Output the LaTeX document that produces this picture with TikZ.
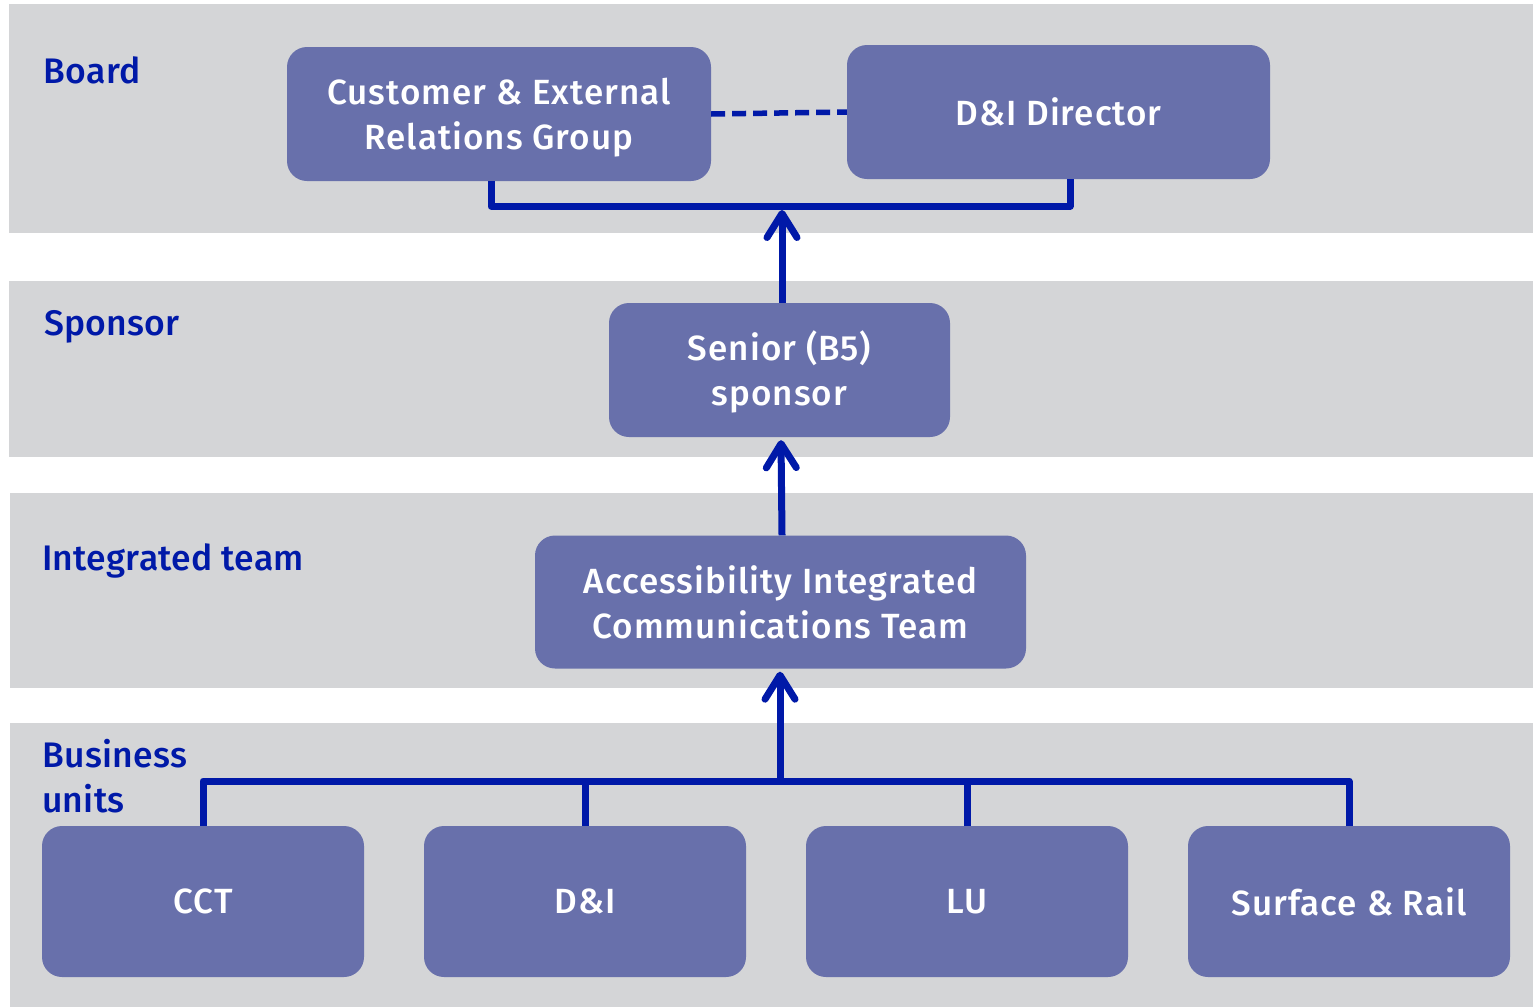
\documentclass[tikz,border=0pt]{standalone}
\usepackage{fontspec}
\IfFontExistsTF{Fira Sans Medium}
  {\setmainfont{Fira Sans}[BoldFont={Fira Sans Medium}]}
  {\setmainfont{Lato}}
\usetikzlibrary{arrows.meta}
\definecolor{band}{HTML}{D4D5D7}
\definecolor{boxc}{HTML}{6870AB}
\definecolor{linec}{HTML}{0019A8}
\newcommand{\lowerstrut}{\rule{0pt}{33pt}}
\tikzset{
  bandrect/.style={fill=band, draw=none},
  unitbox/.style={fill=boxc, draw=none, rounded corners=20pt, text=white, align=center,
    font=\fontsize{35}{45}\selectfont\bfseries\addfontfeature{LetterSpace=3}, inner sep=0pt},
  lbl/.style={text=linec, anchor=base west, inner sep=0pt, align=left,
    font=\fontsize{35.5}{45}\selectfont\bfseries\addfontfeature{LetterSpace=0.8}},
  conn/.style={draw=linec, line width=7pt, line join=round},
  arr/.style={conn, -{Straight Barb[length=24pt,width=30pt,round]}},
  dashconn/.style={draw=linec, line width=5.5pt, dash pattern=on 14pt off 7pt}
}
\begin{document}
\begin{tikzpicture}[x=1pt,y=-1pt]
\useasboundingbox (0,0) rectangle (1533,1007);
% bands
\fill[bandrect] (9,4) rectangle (1533,233);
\fill[bandrect] (9,281) rectangle (1533,457);
\fill[bandrect] (10,493) rectangle (1533,688);
\fill[bandrect] (10,723) rectangle (1533,1007);
% labels
\node[lbl] (lboard) at (43.5,83) {Board};
\node[lbl] (lspons) at (44,335) {Sponsor};
\node[lbl] (linteg) at (42,570) {Integrated team};
\node[lbl] (lbus) at (42,812) {Business\\units};
% boxes
\node[unitbox, minimum width=424pt, minimum height=134pt] (cerg) at (499,114) {\lowerstrut Customer \& External\\Relations Group};
\node[unitbox, minimum width=423pt, minimum height=134pt] (did) at (1058.5,112) {D\&I Director};
\node[unitbox, minimum width=341pt, minimum height=134pt] (sen) at (779.5,370) {\lowerstrut Senior (B5)\\sponsor};
\node[unitbox, minimum width=491pt, minimum height=133pt] (aict) at (780.5,602) {Accessibility Integrated\\Communications Team};
\node[unitbox, minimum width=322pt, minimum height=151pt] (cct) at (203,901.5) {CCT};
\node[unitbox, minimum width=322pt, minimum height=151pt] (dai) at (585,901.5) {D\&I};
\node[unitbox, minimum width=322pt, minimum height=151pt] (lu) at (967,901.5) {LU};
\node[unitbox, minimum width=322pt, minimum height=151pt] (sr) at (1349,901.5) {Surface \& Rail};
% connectors
\draw[dashconn] (cerg.east) -- (did.west);
\draw[conn] ([xshift=-8pt]cerg.south) -- ++(0,25) coordinate (tj) -| ([xshift=11.5pt]did.south);
\coordinate (tjm) at (782,210);
\draw[arr] (sen.north -| tjm) -- (tjm);
\draw[arr] ([xshift=1.5pt]aict.north) -- ([xshift=1.5pt,yshift=-3pt]sen.south);
\coordinate (bus) at (780,781);
\draw[conn] (cct.north) |- (bus) -| (sr.north);
\draw[conn] (dai.north) -- (dai.north |- bus);
\draw[conn] (lu.north) -- (lu.north |- bus);
\draw[arr] (bus) -- ([yshift=-3pt]aict.south -| bus);
\end{tikzpicture}
\end{document}
